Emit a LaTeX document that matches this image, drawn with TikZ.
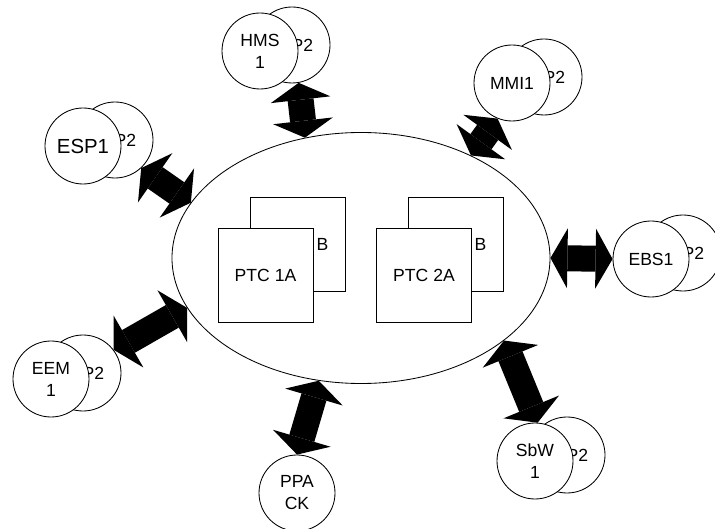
\documentclass[tikz,border=0pt]{standalone}
\usepackage{fontspec}
\setmainfont{Liberation Sans}
\usetikzlibrary{positioning, arrows.meta, shapes.geometric}

\begin{document}
\begin{tikzpicture}[x=0.25mm, y=-0.25mm, every node/.style={font=\fontsize{12.5}{15.6}\selectfont}]
  \tikzstyle{bus} = [ellipse, draw=black, line width=0.6pt, minimum width=94.5mm, minimum height=62.75mm, inner sep=0pt]
  \tikzstyle{unit} = [circle, draw=black, fill=white, line width=0.6pt, minimum size=19mm, inner sep=0pt, align=center]
  \tikzstyle{spare} = [unit, label={[xshift=2.6mm]center:P2}]
  \tikzstyle{ptc} = [rectangle, draw=black, fill=white, line width=0.6pt, minimum width=23.75mm, minimum height=23.5mm, inner sep=0pt]
  \tikzstyle{ptcback} = [ptc, label={[xshift=6.25mm]center:B}]
  \tikzstyle{link} = [line width=6.5mm, {Triangle[length=4.25mm, width=15mm, line width=0pt]}-{Triangle[length=4.25mm, width=15mm, line width=0pt]}]

  \useasboundingbox (0,0) rectangle (715,529);

  \node (bus) [bus] at (361,258) {};

  % two PTC pairs inside the bus
  \node (ptc1b) [ptcback] at (297.5,244) {};
  \node (ptc1a) [ptc] at (265.5,275) {PTC 1A};
  \node (ptc2b) [ptcback] at (455.5,244) {};
  \node (ptc2a) [ptc] at (424,275) {PTC 2A};

  % units round the bus (spare first, so the main one covers it)
  \node (hms2) [spare] at (292,45) {};
  \node (hms1) [unit] at (260,51) {HMS\\1};
  \node (esp2) [spare] at (115,140) {};
  \node (esp1) [unit, font=\fontsize{14.5}{17}\selectfont] at (83,146) {ESP1};
  \node (mmi2) [spare] at (544,77) {};
  \node (mmi1) [unit] at (512,83) {MMI1};
  \node (ebs2) [spare] at (683,253) {};
  \node (ebs1) [unit] at (651,259) {EBS1};
  \node (sbw2) [spare] at (567,455) {};
  \node (sbw1) [unit] at (535,461) {SbW\\1};
  \node (eem2) [spare] at (83,373) {};
  \node (eem1) [unit] at (51,379) {EEM\\1};
  \node (ppa) [unit] at (297,493) {PPA\\CK};

  \draw [link] (hms2.-80) -- (bus.115.4);
  \draw [link] (mmi1.248) -- (bus.43.6);
  \draw [link] (esp2.-47) -- (bus.162.6);
  \draw [link] (eem2.37) -- (bus.196);
  \draw [link] (ppa.90) -- (bus.251.7);
  \draw [link] (sbw1.86) -- (bus.-30.6);
  \draw [link] (ebs1.180) -- (bus.0);
\end{tikzpicture}
\end{document}
